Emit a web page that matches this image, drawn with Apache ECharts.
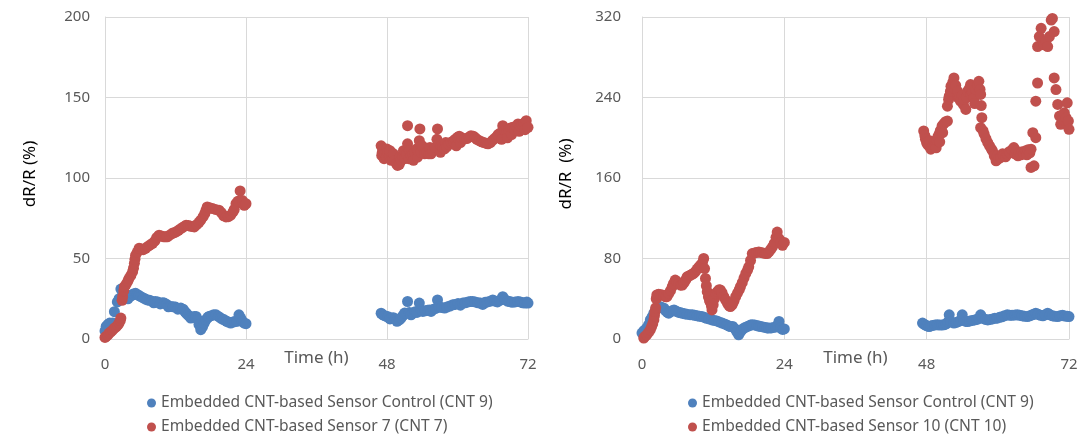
<!DOCTYPE html>
<html>
<head>
<meta charset="utf-8">
<script src="https://cdn.jsdelivr.net/npm/echarts@6/dist/echarts.min.js"></script>
<style>
html,body{margin:0;padding:0;background:#fff;}
#chart{width:1087px;height:444px;}
</style>
</head>
<body>
<div id="chart"></div>
<script>
// ---- tick settings ----
const xTicks = [0, 24, 48, 72];
const leftYTicks = [0, 50, 100, 150, 200];
const rightYTicks = [0, 80, 160, 240, 320];

// ---- series names ----
const nameControl = 'Embedded CNT-based Sensor Control (CNT 9)';
const nameSensor7 = 'Embedded CNT-based Sensor 7 (CNT 7)';
const nameSensor10 = 'Embedded CNT-based Sensor 10 (CNT 10)';

// ---- left panel: control (CNT 9), [time h, dR/R %] ----
const leftControl = [
[0.0,5],[0.2,7.8],[0.5,9],[0.8,9.9],[1.1,8],[1.3,10],[1.6,17],[2.1,23],[2.4,25],[2.7,31],[3.0,29],[3.3,27],[3.6,26],[3.9,25],[4.2,26.5],[4.5,27],[4.8,28],[5.2,28.4],[5.5,27.5],[5.8,27],[6.1,26.3],[6.5,25.5],[6.9,24.8],[7.2,24.3],[7.6,24],[8.0,23.5],[8.3,22.5],[8.6,23.3],[9.0,23],[9.4,21.8],[9.8,22.5],[10.1,22.3],[10.5,21.5],[10.8,20],[11.2,20.2],[11.6,20],[12.0,19.8],[12.4,18.5],[12.9,19.2],[13.3,18.5],[13.6,17],[13.8,16.1],[14.1,15],[14.4,14],[14.6,13],[14.9,13.5],[15.2,14],[15.5,14],[15.8,12],[16.0,9],[16.3,5.8],[16.6,7.5],[16.9,9.9],[17.2,12],[17.5,13.5],[17.7,14],[18.1,14.5],[18.5,15],[18.9,15],[19.3,14],[19.7,13],[20.0,12.3],[20.3,11.9],[20.7,11],[21.0,10.5],[21.4,9.9],[21.8,10.5],[22.1,10.8],[22.5,11],[22.8,15],[23.1,13],[23.4,11],[23.7,9.9],[24.0,9.5],
[47.0,16],[47.3,15],[47.6,14.5],[47.9,14],[48.2,13.8],[48.5,12.5],[48.8,13],[49.1,13.2],[49.4,12.5],[49.7,11],[50.1,11.9],[50.4,13],[50.7,14.5],[51.0,16.1],[51.5,23.3],[51.8,16.5],[52.1,15],[52.4,16.1],[52.8,17],[53.1,16.5],[53.5,22.3],[53.8,18],[54.1,17.1],[54.5,17.5],[54.9,17.8],[55.2,18],[55.5,17.1],[55.9,18.5],[56.3,19],[56.6,24.3],[56.9,20],[57.3,19.5],[57.8,19.2],[58.2,19.8],[58.7,20.5],[59.2,21.2],[59.6,21.5],[60.1,22],[60.5,21],[60.9,22.3],[61.3,22.5],[61.8,23],[62.2,23.3],[62.6,23.3],[63.0,23],[63.5,22.5],[63.9,22.3],[64.3,21.5],[64.7,22.8],[65.1,23],[65.6,23.5],[66.0,24.3],[66.4,23.5],[66.8,23],[67.2,24],[67.7,26.3],[68.1,24.5],[68.5,23.5],[68.9,23.3],[69.3,22.8],[69.8,23],[70.3,23.3],[70.7,23],[71.1,22.5],[71.5,22.3],[71.8,23],[72.0,22.3]
];

// ---- left panel: sensor 7 (CNT 7) ----
const leftSensor7 = [
[0.0,1],[0.2,1.6],[0.5,2.5],[0.7,3.7],[1.0,4.5],[1.3,5.5],[1.6,6.8],[1.9,7.5],[2.2,8.8],[2.4,9.9],[2.6,11.5],[2.7,13],[2.9,24],[3.0,26.3],[3.2,30],[3.3,32.5],[3.6,34],[3.9,36],[4.1,37.7],[4.4,39.5],[4.7,41.8],[4.85,44],[5.0,47],[5.1,49.5],[5.2,52],[5.5,54],[5.8,56.3],[6.1,56],[6.5,55.5],[6.9,56.3],[7.3,57.5],[7.7,58.5],[8.1,59.4],[8.5,61],[8.8,63],[9.2,64.5],[9.6,64],[10.0,63.5],[10.3,63.5],[10.6,63.5],[11.0,64.5],[11.4,65.5],[11.7,66],[12.1,66.5],[12.5,67.5],[12.9,68.5],[13.3,69.5],[13.8,70.7],[14.2,70.5],[14.6,70],[15.0,69.8],[15.2,69.6],[15.6,71],[16.0,72.5],[16.3,73.8],[16.7,76],[17.0,78],[17.2,80],[17.4,82],[17.8,81.5],[18.3,81],[18.8,80.5],[19.4,80],[19.8,78.5],[20.2,76.5],[20.6,75.8],[21.0,76],[21.4,76.9],[21.8,79],[22.0,80.5],[22.3,84],[22.6,85.5],[23.0,92],[23.4,86],[23.7,83],[24.0,84],
[47.0,120],[47.1,114],[47.2,116],[47.4,118],[47.5,112],[47.6,115],[47.9,113],[48.0,118],[48.1,116],[48.4,113],[48.5,117],[48.7,111],[49.0,112],[49.1,115],[49.3,110.9],[49.6,109],[49.8,107.8],[50.1,108.5],[50.2,113],[50.4,111],[50.7,113],[50.8,117],[51.0,112],[51.3,115],[51.5,121.2],[51.5,132.5],[51.7,112],[51.8,117],[52.1,114],[52.4,115],[52.5,111],[52.7,116],[53.0,118],[53.2,113],[53.3,117],[53.5,123.2],[53.6,130.5],[53.8,116],[54.0,120],[54.4,115],[54.8,116],[55.1,115],[55.3,119],[55.5,115],[55.8,117],[56.2,119],[56.5,124],[56.6,130.5],[56.9,121.2],[57.1,116],[57.2,120],[57.5,119],[57.8,118.1],[58.0,122],[58.2,119.5],[58.5,121],[58.9,122.2],[59.3,123],[59.6,124],[59.8,120],[60.0,125.3],[60.3,126],[60.5,122],[60.7,125],[61.2,124.3],[61.6,124.5],[62.0,125.5],[62.3,126.3],[62.7,126],[63.0,125],[63.3,124],[63.7,123.2],[64.1,122.5],[64.5,122],[64.9,121.5],[65.2,121.2],[65.6,122],[66.0,123.5],[66.3,124.5],[66.6,125.3],[66.9,127],[67.3,128],[67.5,124],[67.7,132.5],[68.0,129.4],[68.4,128.5],[68.5,125],[68.7,130],[69.0,131],[69.2,127],[69.4,131.5],[69.7,130],[70.0,132],[70.3,133.6],[70.5,129],[70.7,132],[71.0,133],[71.3,134],[71.5,130],[71.7,135.6],[72.0,131.5]
];

// ---- right panel: control (CNT 9) ----
const rightControl = [
[0.0,5.9],[0.3,8],[0.5,9],[0.8,10.9],[1.1,14],[1.4,19],[1.7,22],[2.0,25.7],[2.3,29],[2.6,31],[2.8,32.2],[3.1,32],[3.4,31],[3.7,30.6],[4.0,28],[4.3,26.5],[4.5,25.7],[4.8,27],[5.1,28],[5.4,28.9],[5.8,27.5],[6.2,26.5],[6.5,26],[6.8,25.7],[7.2,25],[7.6,24.5],[8.1,24.2],[8.5,24],[8.9,23.5],[9.3,23],[9.7,22.5],[10.1,22.3],[10.5,21.5],[10.9,20.5],[11.3,20],[11.8,19],[12.2,18.5],[12.6,18],[13.0,17],[13.5,15.8],[13.9,15],[14.3,14],[14.6,13],[14.9,12.4],[15.3,12.5],[15.7,10],[16.0,7],[16.3,4.2],[16.6,7],[16.9,9.5],[17.2,10.9],[17.6,12],[18.0,13],[18.3,13.8],[18.6,14.1],[19.0,14],[19.4,13.2],[19.7,12.8],[20.0,12.4],[20.4,12],[20.8,11.5],[21.1,11],[21.4,10.9],[21.8,11],[22.2,11.5],[22.6,12],[22.9,14],[23.1,17.4],[23.4,10.9],[23.7,9.5],[24.0,10],
[47.3,15.8],[47.6,14.5],[47.9,13.5],[48.1,13],[48.4,12.4],[48.7,13],[49.0,13.5],[49.4,14],[49.8,14.1],[50.2,13.8],[50.6,14],[50.9,14.1],[51.3,15],[51.6,17],[51.8,24],[52.1,17],[52.6,15.8],[53.0,16.5],[53.4,17.5],[53.8,19],[54.0,24],[54.3,18.5],[54.6,17.5],[54.9,17.4],[55.3,18],[55.7,18.5],[56.1,19],[56.5,19.5],[56.8,20.5],[57.1,24],[57.5,20.5],[57.9,19.5],[58.3,19],[58.7,19.5],[59.1,20],[59.5,20.5],[59.9,20.7],[60.3,21.5],[60.7,22],[61.1,23],[61.6,24],[62.0,23.5],[62.4,23.5],[62.9,23.8],[63.3,24],[63.7,23.5],[64.1,23],[64.5,22.5],[65.0,22.3],[65.4,23],[65.8,24],[66.1,24.5],[66.4,25.7],[66.8,24.5],[67.2,23.5],[67.6,23],[68.0,24],[68.4,25.7],[68.8,24],[69.2,23],[69.6,22.5],[70.1,22.3],[70.5,23],[70.9,23.5],[71.3,22.8],[71.7,22.5],[72.0,22.3]
];

// ---- right panel: sensor 10 (CNT 10) ----
const rightSensor10 = [
[0.3,1],[0.5,2.5],[0.8,4.2],[1.1,6.5],[1.4,9.2],[1.6,12],[1.8,15],[2.0,19],[2.1,23],[2.2,27.3],[2.3,31],[2.4,40],[2.5,43.8],[2.8,44.5],[3.1,44],[3.4,43.8],[3.7,43],[4.0,42],[4.2,42.1],[4.5,45],[4.8,48],[5.1,52],[5.3,55],[5.6,58.6],[5.9,57],[6.2,55],[6.5,53.5],[6.8,53.6],[7.1,56],[7.4,59],[7.6,61.8],[7.9,62.5],[8.2,63.5],[8.5,64.5],[8.7,65.2],[9.0,67],[9.3,69.5],[9.6,71.7],[9.9,73.5],[10.2,76],[10.4,80],[10.55,70],[10.7,60.2],[10.85,53],[11.0,47],[11.2,42],[11.4,38],[11.5,37.1],[11.7,33],[11.8,28.9],[12.0,34],[12.2,40],[12.4,45],[12.7,47],[13.0,49],[13.2,48.7],[13.5,46],[13.8,42],[14.1,38.8],[14.4,35.5],[14.7,33],[14.9,32.2],[15.2,34],[15.5,37.5],[15.8,42.1],[16.1,45.5],[16.4,49],[16.6,52],[16.9,56],[17.2,60.5],[17.5,65.2],[17.8,68.5],[18.0,71.7],[18.3,78],[18.6,84.9],[19.0,85.5],[19.3,86],[19.7,86.5],[20.0,86],[20.4,85.5],[20.8,85],[21.1,84.9],[21.4,86.5],[21.7,89],[22.0,91.5],[22.3,95],[22.6,101],[22.8,106.3],[23.1,99.8],[23.4,96],[23.7,93.1],[24.0,96],
[47.5,206.7],[47.7,202],[47.8,198.5],[48.0,195],[48.2,193],[48.4,191.9],[48.5,197],[48.7,188.6],[48.9,191],[49.1,193],[49.3,196],[49.5,195.2],[49.6,190],[49.7,198],[49.9,201],[50.1,203.5],[50.2,196],[50.3,207],[50.6,211.7],[50.7,205],[50.9,214],[51.2,216],[51.5,216.6],[51.5,231.4],[51.7,238],[51.8,241.3],[52.0,246],[52.1,251.2],[52.4,255],[52.6,259.4],[52.7,249],[52.9,252],[53.2,246.2],[53.3,240],[53.5,240],[53.7,236.3],[54.0,242],[54.2,233],[54.3,238],[54.6,228.1],[54.7,240],[54.9,246.2],[55.2,249],[55.4,252.8],[55.5,243],[55.7,245],[56.0,239.6],[56.1,234],[56.3,248],[56.6,252],[56.8,256.1],[57.0,248],[57.1,243.0],[57.2,232],[57.3,219.9],[57.1,210],[57.5,207],[57.7,203.5],[58.0,199],[58.3,195.2],[58.6,192],[58.9,189],[59.1,187],[59.4,182],[59.7,177.1],[59.9,182],[60.1,179],[60.5,180.4],[60.8,184],[61.0,182],[61.3,181],[61.6,183.7],[61.9,186],[62.1,185],[62.4,188],[62.7,190.2],[62.9,184],[63.1,187],[63.4,182],[63.6,185.3],[63.9,183],[64.1,186],[64.4,184],[64.7,187],[64.9,183],[65.1,188],[65.4,185],[65.6,188.6],[65.6,170.5],[66.1,172.1],[65.9,205],[66.4,200.1],[66.4,236.3],[66.7,254.4],[66.7,290.6],[67.0,300.5],[67.3,308.7],[67.5,296],[67.8,292.3],[68.1,296],[68.4,290.6],[68.7,300.5],[69.0,317],[69.2,318.6],[69.5,305.5],[69.5,259.4],[69.8,247.9],[70.1,233.1],[70.4,221.5],[70.6,213.3],[70.9,218],[71.2,224.8],[71.5,220],[71.7,234.7],[71.9,216.6],[72.0,208.4]
];

const blue = '#4F81BD';
const red = '#C0504D';
const labelGray = '#595959';
const gridGray = '#D9D9D9';
const font = 'Noto Sans';

function xAxis(gridIndex) {
  return {
    type: 'value', gridIndex: gridIndex,
    min: xTicks[0], max: xTicks[xTicks.length - 1], interval: xTicks[1] - xTicks[0],
    name: 'Time (h)', nameLocation: 'middle', nameGap: 11, nameMoveOverlap: false,
    nameTextStyle: { color: labelGray, fontSize: 17, fontFamily: font, verticalAlign: 'top' },
    axisLine: { show: true, lineStyle: { color: gridGray, width: 1 } },
    axisTick: { show: false },
    axisLabel: { color: labelGray, fontSize: 15, fontFamily: font, margin: 18 },
    splitLine: { show: true, lineStyle: { color: gridGray, width: 1 } }
  };
}
function yAxis(gridIndex, ticks, name, gap, lblMargin) {
  return {
    type: 'value', gridIndex: gridIndex,
    min: ticks[0], max: ticks[ticks.length - 1], interval: ticks[1] - ticks[0],
    name: name, nameLocation: 'middle', nameGap: gap, nameMoveOverlap: false,
    nameTextStyle: { color: '#000', fontSize: 17, fontFamily: font, padding: [0, 0, 0, 8] },
    axisLine: { show: true, lineStyle: { color: gridGray, width: 1 } },
    axisTick: { show: false },
    axisLabel: { color: labelGray, fontSize: 15, fontFamily: font, margin: lblMargin },
    splitLine: { show: true, lineStyle: { color: gridGray, width: 1 } }
  };
}
function scatter(name, data, color, idx) {
  return {
    type: 'scatter', name: name, data: data,
    xAxisIndex: idx, yAxisIndex: idx,
    symbol: 'circle', symbolSize: 11, clip: false,
    itemStyle: { color: color, opacity: 1 },
    emphasis: { disabled: true }
  };
}

const chart = echarts.init(document.getElementById('chart'), null, { renderer: 'canvas' });
chart.setOption({
  backgroundColor: '#ffffff',
  animation: false,
  grid: [
    { left: 105, top: 17, width: 423, height: 322 },
    { left: 642, top: 17, width: 427, height: 322 }
  ],
  xAxis: [xAxis(0), xAxis(1)],
  yAxis: [
    yAxis(0, leftYTicks, 'dR/R (%)', 66, 15),
    yAxis(1, rightYTicks, 'dR/R  (%)', 67, 21)
  ],
  legend: [
    {
      orient: 'vertical', left: 142, top: 390, itemGap: 8,
      itemWidth: 9, itemHeight: 9, icon: 'circle',
      textStyle: { color: labelGray, fontSize: 15.6, fontFamily: font },
      data: [{ name: nameControl, itemStyle: { color: blue } }, { name: nameSensor7, itemStyle: { color: red } }]
    },
    {
      orient: 'vertical', left: 683, top: 390, itemGap: 8,
      itemWidth: 9, itemHeight: 9, icon: 'circle',
      textStyle: { color: labelGray, fontSize: 15.6, fontFamily: font },
      data: [{ name: nameControl, itemStyle: { color: blue } }, { name: nameSensor10, itemStyle: { color: red } }]
    }
  ],
  series: [
    scatter(nameControl, leftControl, blue, 0),
    scatter(nameSensor7, leftSensor7, red, 0),
    scatter(nameControl, rightControl, blue, 1),
    scatter(nameSensor10, rightSensor10, red, 1)
  ]
});
</script>
</body>
</html>
